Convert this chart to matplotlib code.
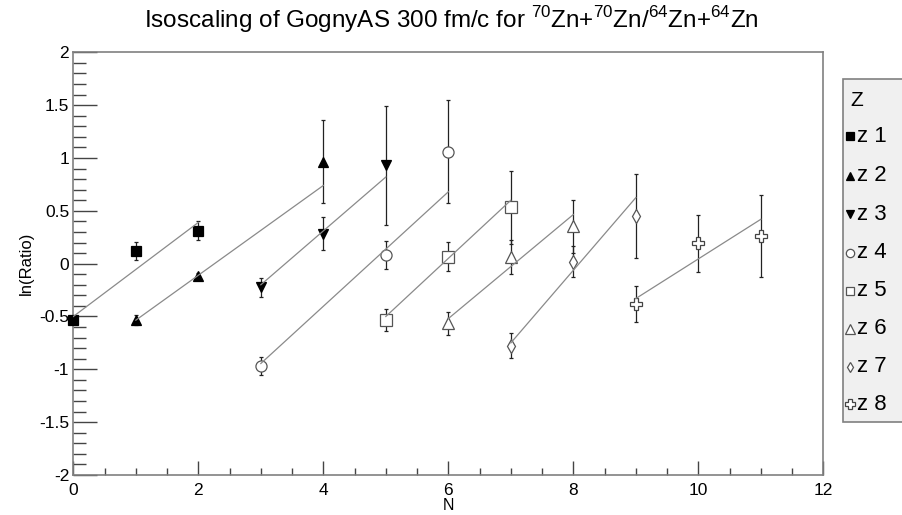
import numpy as np
import matplotlib
matplotlib.use("Agg")
import matplotlib.pyplot as plt
from matplotlib.lines import Line2D
from matplotlib.patches import Rectangle

plt.rcParams['font.family'] = ['Liberation Sans', 'DejaVu Sans']
plt.rcParams['mathtext.fontset'] = 'custom'
plt.rcParams['mathtext.rm'] = 'Liberation Sans'
plt.rcParams['axes.unicode_minus'] = False

# ln(Ratio) vs N for each Z
z1_n = [0, 1, 2]
z1_y = [-0.53, 0.12, 0.31]
z1_err = [0.03, 0.087, 0.09]
z1_fit = [-0.50, 0.39]

z2_n = [1, 2, 4]
z2_y = [-0.535, -0.12, 0.965]
z2_err = [0.05, 0.03, 0.39]
z2_fit = [-0.535, 0.74]

z3_n = [3, 4, 5]
z3_y = [-0.225, 0.285, 0.93]
z3_err = [0.09, 0.155, 0.56]
z3_fit = [-0.20, 0.82]

z4_n = [3, 5, 6]
z4_y = [-0.97, 0.08, 1.06]
z4_err = [0.085, 0.135, 0.49]
z4_fit = [-0.945, 0.68]

z5_n = [5, 6, 7]
z5_y = [-0.535, 0.065, 0.535]
z5_err = [0.105, 0.137, 0.345]
z5_fit = [-0.50, 0.60]

z6_n = [6, 7, 8]
z6_y = [-0.565, 0.06, 0.355]
z6_err = [0.107, 0.16, 0.25]
z6_fit = [-0.52, 0.465]

z7_n = [7, 8, 9]
z7_y = [-0.775, 0.02, 0.45]
z7_err = [0.115, 0.15, 0.40]
z7_fit = [-0.75, 0.625]

z8_n = [9, 10, 11]
z8_y = [-0.38, 0.195, 0.26]
z8_err = [0.17, 0.27, 0.39]
z8_fit = [-0.33, 0.42]

labels = ['z 1', 'z 2', 'z 3', 'z 4', 'z 5', 'z 6', 'z 7', 'z 8']
series = [(z1_n, z1_y, z1_err, z1_fit), (z2_n, z2_y, z2_err, z2_fit),
          (z3_n, z3_y, z3_err, z3_fit), (z4_n, z4_y, z4_err, z4_fit),
          (z5_n, z5_y, z5_err, z5_fit), (z6_n, z6_y, z6_err, z6_fit),
          (z7_n, z7_y, z7_err, z7_fit), (z8_n, z8_y, z8_err, z8_fit)]

# marker, size, face, edge
styles = [('s', 7.5, 'black', 'black'),
          ('^', 7.5, 'black', 'black'),
          ('v', 7.5, 'black', 'black'),
          ('o', 8, 'white', '#555555'),
          ('s', 8, 'white', '#555555'),
          ('^', 9, 'white', '#555555'),
          ('d', 7, 'white', '#555555'),
          ('P', 9, 'white', '#444444')]

fig = plt.figure(figsize=(9.03, 5.15), dpi=100)
ax = fig.add_axes([0.0812, 0.0777, 0.8306, 0.8207])

for (n, y, err, fit), (m, ms, fc, ec) in zip(series, styles):
    eb = ax.errorbar(n, y, yerr=err, fmt='none', ecolor='#222222', elinewidth=0.9,
                     capsize=1.6, capthick=0.9, zorder=2)
    for art in eb.get_children():
        art.set_clip_on(False)
    ax.plot(n, y, linestyle='none', marker=m, markersize=ms, markerfacecolor=fc,
            markeredgecolor=ec, markeredgewidth=0.9, zorder=3, clip_on=False)
    ax.plot([n[0], n[-1]], fit, color='#8a8a8a', lw=0.9, zorder=4)

ax.set_xlim(0, 12)
ax.set_ylim(-2, 2)
ax.set_xticks(np.arange(0, 13, 2))
ax.set_xticks(np.arange(0, 12.01, 0.5), minor=True)
ax.set_yticks(np.arange(-2, 2.01, 0.5))
ax.set_yticks(np.arange(-2, 2.01, 0.1), minor=True)
ax.set_yticklabels(['-2', '-1.5', '-1', '-0.5', '0', '0.5', '1', '1.5', '2'])
ax.tick_params(axis='x', which='major', direction='in', length=10, width=1,
               color='#444444', labelsize=12.5, pad=6, top=False)
ax.tick_params(axis='x', which='minor', direction='in', length=5, width=1,
               color='#444444', top=False)
ax.tick_params(axis='y', which='major', direction='in', length=17, width=1,
               color='#444444', labelsize=12.5, pad=3, right=False)
ax.tick_params(axis='y', which='minor', direction='in', length=9, width=1,
               color='#444444', right=False)
for s in ax.spines.values():
    s.set_color('#808080')
    s.set_linewidth(1.2)

ax.set_xlabel('N', fontsize=11.5, labelpad=0)
ax.set_ylabel('ln(Ratio)', fontsize=12, labelpad=4)

fig.text(0.5, 0.962, r'Isoscaling of GognyAS 300 fm/c for $^{70}$Zn+$^{70}$Zn/$^{64}$Zn+$^{64}$Zn',
         ha='center', va='center', fontsize=17.5)

# legend box
fig.patches.append(Rectangle((842.7 / 903, 1 - 421.7 / 515), 0.2, (421.7 - 79.3) / 515,
                             transform=fig.transFigure, facecolor='#f0f0f0',
                             edgecolor='#808080', lw=1.2, zorder=0))
fig.text(850 / 903, 1 - 100 / 515, 'Z', fontsize=15, va='center', ha='left')
leg_y = [136, 176, 214, 253, 291, 329, 367, 404]
for lab, (m, ms, fc, ec), py in zip(labels, styles, leg_y):
    yy = 1 - py / 515
    fig.add_artist(Line2D([850.5 / 903], [yy], marker=m, markersize=ms * 0.75,
                          markerfacecolor=fc, markeredgecolor=ec,
                          markeredgewidth=0.9, linestyle='none',
                          transform=fig.transFigure))
    fig.text(857 / 903, yy, lab, fontsize=16, va='center', ha='left')

fig.savefig('out.png', dpi=100)
